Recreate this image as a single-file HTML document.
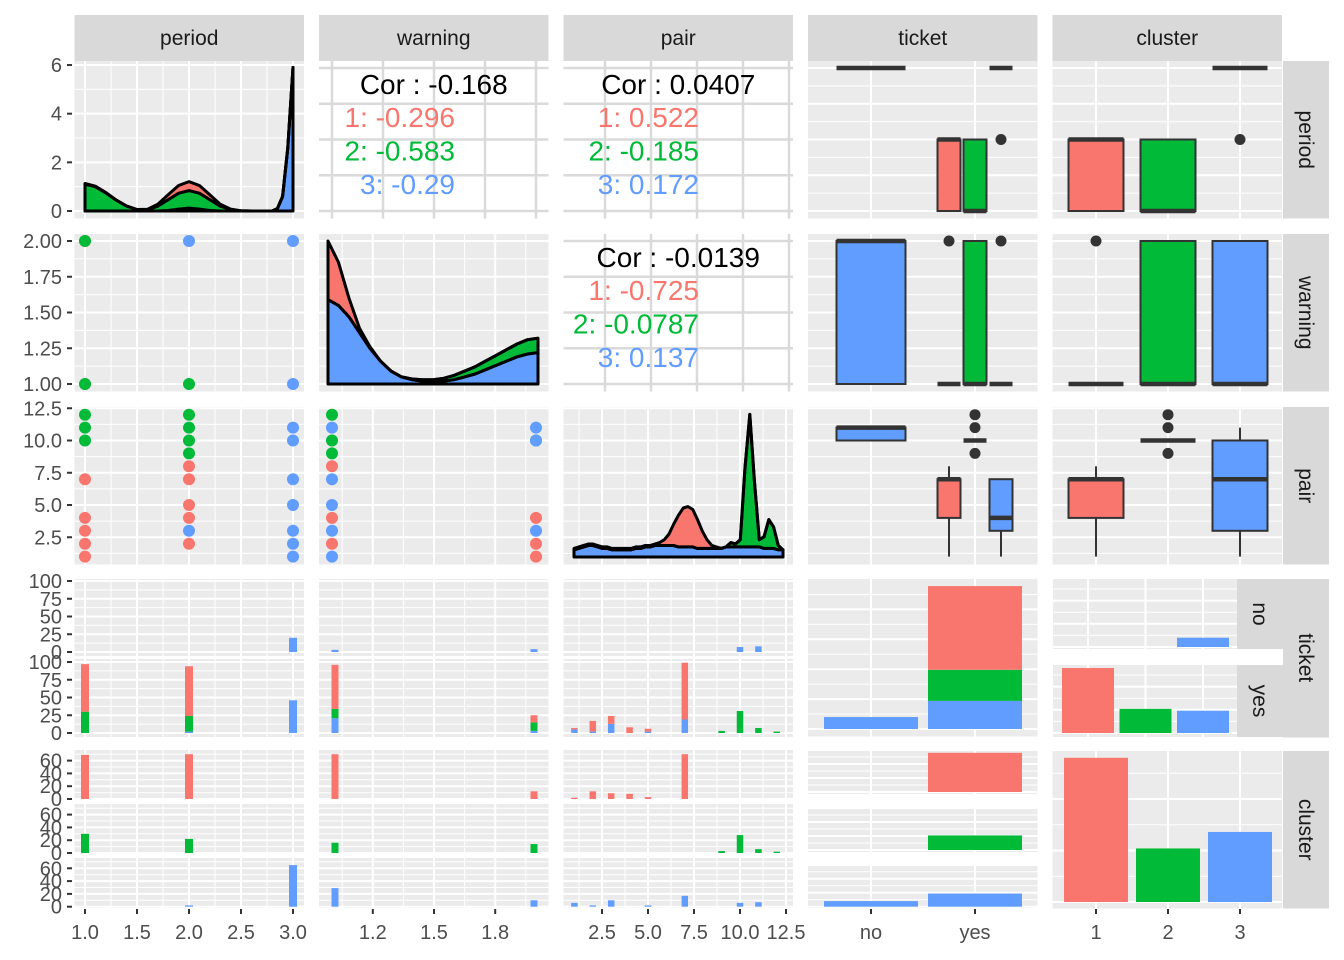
<!DOCTYPE html>
<html><head><meta charset="utf-8"><title>Pairs plot</title>
<style>
html,body{margin:0;padding:0;background:#fff;}
svg{display:block;font-family:"Liberation Sans",Arial,sans-serif;}
</style></head>
<body>
<svg id="chart" width="1344" height="960" viewBox="0 0 1344 960" xmlns="http://www.w3.org/2000/svg"></svg>
<script>
// ---------- DATA ----------
const clusterColors = ['#F8766D','#00BA38','#619CFF'];
const varNames = ['period','warning','pair','ticket','cluster'];

const periodDensX = [1,1.1,1.2,1.3,1.4,1.5,1.6,1.7,1.8,1.9,2,2.1,2.2,2.3,2.4,2.5,2.6,2.7,2.8,2.85,2.9,2.95,3];
const periodDensRed   = [0.03,0.02,0.01,0,0,0,0.02,0.08,0.2,0.32,0.37,0.32,0.2,0.08,0.02,0,0,0,0,0,0,0,0];
const periodDensGreen = [1.1,1.0,0.75,0.45,0.2,0.06,0.05,0.2,0.45,0.65,0.72,0.65,0.45,0.2,0.06,0.01,0,0,0,0,0,0,0];
const periodDensBlue  = [0,0,0,0,0,0,0,0,0.02,0.08,0.12,0.08,0.02,0,0,0,0,0,0,0.1,0.6,2.6,5.9];

const warnDensX = [1,1.05,1.1,1.15,1.2,1.25,1.3,1.35,1.4,1.45,1.5,1.55,1.6,1.65,1.7,1.75,1.8,1.85,1.9,1.95,2];
const warnDensRed   = [0.41,0.3,0.13,0.03,0.01,0,0,0,0,0,0,0,0,0,0,0,0,0,0,0,0];
const warnDensGreen = [0,0,0,0,0,0,0,0,0.005,0.01,0.01,0.02,0.03,0.04,0.05,0.06,0.07,0.08,0.09,0.1,0.1];
const warnDensBlue  = [0.59,0.55,0.47,0.36,0.25,0.16,0.09,0.05,0.03,0.02,0.02,0.02,0.03,0.05,0.07,0.1,0.13,0.16,0.19,0.21,0.22];

const pairDensX = [1,1.25,1.5,1.75,2,2.25,2.5,2.75,3,3.25,3.5,3.75,4,4.25,4.5,4.75,5,5.25,5.5,5.75,6,6.25,6.5,6.75,7,7.25,7.5,7.75,8,8.25,8.5,8.75,9,9.25,9.5,9.75,10,10.25,10.5,10.75,11,11.25,11.5,11.75,12];
const pairDensRed   = [0.01,0.01,0.01,0.01,0.01,0.01,0.01,0.01,0.01,0.01,0.01,0.01,0.01,0.01,0.01,0.01,0.01,0.01,0.02,0.04,0.08,0.15,0.22,0.27,0.28,0.26,0.2,0.12,0.06,0.02,0.01,0,0,0,0,0,0,0,0,0,0,0,0,0,0];
const pairDensGreen = [0,0,0,0,0,0,0,0,0,0,0,0,0,0,0,0,0,0,0,0,0,0,0,0,0,0,0,0,0,0,0,0,0,0.03,0.02,0.05,0.55,0.92,0.45,0.05,0.08,0.2,0.15,0.03,0];
const pairDensBlue  = [0.05,0.06,0.07,0.08,0.08,0.07,0.06,0.06,0.05,0.05,0.05,0.05,0.05,0.06,0.06,0.07,0.07,0.08,0.08,0.08,0.08,0.08,0.07,0.07,0.07,0.07,0.06,0.06,0.06,0.06,0.06,0.06,0.07,0.07,0.07,0.07,0.07,0.07,0.07,0.07,0.06,0.06,0.06,0.05,0.05];

const wpPeriod  = [1,1,1,1,2,2,3,3];
const wpWarning = [2,2,1,1,2,1,2,1];
const wpCluster = [1,2,1,2,3,2,3,3];
const ppPeriod  = [1,1,1,1,1,1,1,1,2,2,2,2,2,2,2,2,2,2,3,3,3,3,3,3,3];
const ppPair    = [12,11,10,7,4,3,2,1,12,11,10,9,8,7,5,4,2,3,11,10,7,5,3,2,1];
const ppCluster = [2,2,2,1,1,1,1,1,2,2,2,2,1,1,1,1,1,3,3,3,3,3,3,3,3];
const pwWarning = [1,1,1,1,1,1,1,1,1,1,1,2,2,2,2,2,2,2];
const pwPair    = [12,11,10,9,8,7,5,4,3,2,1,10,11,10,4,3,2,1];
const pwCluster = [2,3,2,2,1,3,3,1,3,1,3,2,3,3,1,3,1,1];

const corOverall = ['Cor : -0.168','Cor : 0.0407','Cor : -0.0139'];
const corByCluster = [['1: -0.296','2: -0.583','3: -0.29'],['1: 0.522','2: -0.185','3: 0.172'],['1: -0.725','2: -0.0787','3: 0.137']];

const bxTicketCat   = ['no','yes','yes','yes'];
const bxTicketGrp   = [3,1,2,3];
const bxTicketPeriod = [[3,3,3,3,3],[1,1,2,2,2],[1,1,1,2,2],[3,3,3,3,3]];
const bxTicketPeriodOut = [[],[],[],[2]];
const bxTicketWarning = [[1,1,2,2,2],[1,1,1,1,1],[1,1,1,2,2],[1,1,1,1,1]];
const bxTicketWarnOut = [[],[2],[],[2]];
const bxTicketPair = [[10,10,11,11,11],[1,4,7,7,8],[10,10,10,10,10],[1,3,4,7,7]];
const bxTicketPairOut = [[],[],[9,11,12],[]];
const bxClusterPeriod = [[1,1,2,2,2],[1,1,1,2,2],[3,3,3,3,3]];
const bxClusterPeriodOut = [[],[],[2]];
const bxClusterWarning = [[1,1,1,1,1],[1,1,1,2,2],[1,1,1,2,2]];
const bxClusterWarnOut = [[2],[],[]];
const bxClusterPair = [[1,4,7,7,8],[10,10,10,10,10],[1,3,7,10,11]];
const bxClusterPairOut = [[],[9,11,12],[]];

const histPeriodVals = [1,2,3];
const tkNoPeriodBlue = [0,0,20];
const tkYesPeriodRed = [67,70,0], tkYesPeriodGreen = [30,22,0], tkYesPeriodBlue = [0,2,46];
const histWarnVals = [1,2];
const tkNoWarnBlue = [3,4];
const tkYesWarnRed = [62,10], tkYesWarnGreen = [13,12], tkYesWarnBlue = [21,3];
const histPairVals = [1,2,3,4,5,7,9,10,11,12];
const tkNoPairBlue = [0,0,0,0,0,0,0,7,8,0];
const tkYesPairRed = [2,15,11,8,4,80,0,0,0,0];
const tkYesPairGreen = [0,0,0,0,0,0,3,31,7,2];
const tkYesPairBlue = [5,2,13,0,2,19,0,0,0,0];
const clPeriod = [[69,70,0],[30,22,0],[0,2,65]];
const clWarn = [[70,12],[16,14],[29,10]];
const clPair = [[2,12,9,8,3,70,0,0,0,0],[0,0,0,0,0,0,3,28,6,2],[6,2,10,0,2,17,0,6,7,0]];
const ticketCats = ['no','yes'];
const ttRed = [0,140], ttGreen = [0,52], ttBlue = [20,47];
const tcNo = [0,0,20], tcYes = [140,52,48];
const ctNo = [0,0,20], ctYes = [140,52,47];
const ccCounts = [140,52,68];

// ---------- GEOMETRY ----------
const NS='http://www.w3.org/2000/svg';
const SVG=document.getElementById('chart');
const COLX=[74.5,319,563.5,808,1052.5], PW=229.5;
const ROWY=[61,234,407,579,751], PH=157.5;
const xPeriod=v=>85+(v-1)*104;
const xWarn=v=>332+(v-1)*204;
const xWarnD=v=>328+(v-1)*210;
const xPair=v=>556+v*18.4;
const xTicket=c=>c==='no'?871:975;
const xCluster=c=>1096+(c-1)*72;
const yDens=d=>211-d*24.33;
const yPeriod=p=>211-(p-1)*71.5;
const yWarn=w=>384-(w-1)*143;
const yPair=p=>569.5-12.9*p;

function mk(tag,attrs,name,parent){
  const el=document.createElementNS(NS,tag);
  for(const k in attrs) el.setAttribute(k,attrs[k]);
  
  
  (parent||SVG).appendChild(el);
  return el;
}
function txt(x,y,s,name,o){
  o=o||{};
  const t=mk('text',{x:x,y:y,'font-size':o.size||20,fill:o.fill||'#4D4D4D','text-anchor':o.anchor||'middle'},name);
  if(o.rot) t.setAttribute('transform','rotate('+o.rot+' '+x+' '+y+')');
  t.textContent=s;
  return t;
}
function panel(x0,y0,x1,y1,name,xs,xsMin,ys,ysMin,cor){
  mk('rect',{x:x0,y:y0,width:x1-x0,height:y1-y0,fill:cor?'#FFFFFF':'#EBEBEB'},name);
  const col=cor?'#DADADA':'#FFFFFF';
  (ysMin||[]).forEach(y=>{ if(y>y0&&y<y1) mk('line',{x1:x0,x2:x1,y1:y,y2:y,stroke:col,'stroke-width':1},'minor-gridline'); });
  (xsMin||[]).forEach(x=>{ if(x>x0&&x<x1) mk('line',{x1:x,x2:x,y1:y0,y2:y1,stroke:col,'stroke-width':1},'minor-gridline'); });
  (ys||[]).forEach(y=>{ if(y>=y0-1&&y<=y1+1) mk('line',{x1:x0,x2:x1,y1:y,y2:y,stroke:col,'stroke-width':cor?2.5:2},'major-gridline'); });
  (xs||[]).forEach(x=>{ if(x>=x0-1&&x<=x1+1) mk('line',{x1:x,x2:x,y1:y0,y2:y1,stroke:col,'stroke-width':cor?2.5:2},'major-gridline'); });
}
const gxMaj=[[1,1.5,2,2.5,3].map(xPeriod),[1.2,1.5,1.8].map(xWarn),[2.5,5,7.5,10,12.5].map(xPair),[871,975],[1096,1168,1240]];
const gxMin=[[1.25,1.75,2.25,2.75].map(xPeriod),[1.05,1.35,1.65,1.95].map(xWarn),[1.25,3.75,6.25,8.75,11.25].map(xPair),[],[]];
const gyPeriodMaj=[1,1.5,2,2.5,3].map(yPeriod), gyPeriodMin=[1.25,1.75,2.25,2.75].map(yPeriod);
const gyWarnMaj=[1,1.25,1.5,1.75,2].map(yWarn), gyWarnMin=[1.125,1.375,1.625,1.875].map(yWarn);
const gyPairMaj=[2.5,5,7.5,10,12.5].map(yPair), gyPairMin=[1.25,3.75,6.25,8.75,11.25].map(yPair);

varNames.forEach((n,i)=>{
  mk('rect',{x:COLX[i],y:15,width:PW,height:46,fill:'#D9D9D9'},'column-strip-'+n);
  txt(COLX[i]+PW/2,45,n,'column-strip-label-'+n,{size:21,fill:'#1A1A1A'});
  mk('rect',{x:1283,y:ROWY[i],width:46,height:PH+(i==3?1:0),fill:'#D9D9D9'},'row-strip-'+n);
  txt(1299,ROWY[i]+PH/2,n,'row-strip-label-'+n,{size:21,fill:'#1A1A1A',rot:90});
});

function stackedDensity(xs,layers,xf,base,hf,name){
  const cum=xs.map(()=>0);
  layers.forEach((L)=>{
    const lo=cum.slice();
    L.vals.forEach((v,i)=>cum[i]+=v);
    let d='M'+xf(xs[0])+','+(base-lo[0]*hf);
    xs.forEach((x,i)=>{ d+=' L'+xf(x).toFixed(1)+','+(base-cum[i]*hf).toFixed(1); });
    for(let i=xs.length-1;i>=0;i--) d+=' L'+xf(xs[i]).toFixed(1)+','+(base-lo[i]*hf).toFixed(1);
    d+='Z';
    mk('path',{d:d,fill:L.color,stroke:'#000','stroke-width':3,'stroke-linejoin':'round'},name+'-'+L.key);
  });
}
function pts(xs,ys,cs,xf,yf,name){
  xs.forEach((x,i)=>{ mk('circle',{cx:xf(x),cy:yf(ys[i]),r:6,fill:clusterColors[cs[i]-1]},name); });
}
function box(cx,w,s,out,yf,color,name){
  const x0=cx-w/2;
  mk('line',{x1:cx,x2:cx,y1:yf(s[0]),y2:yf(s[1]),stroke:'#333','stroke-width':2},name+'-whisker');
  mk('line',{x1:cx,x2:cx,y1:yf(s[3]),y2:yf(s[4]),stroke:'#333','stroke-width':2},name+'-whisker');
  mk('rect',{x:x0,y:yf(s[3]),width:w,height:Math.max(0,yf(s[1])-yf(s[3])),fill:color,stroke:'#333','stroke-width':2},name);
  mk('line',{x1:x0,x2:x0+w,y1:yf(s[2]),y2:yf(s[2]),stroke:'#333','stroke-width':4.5},name+'-median');
  out.forEach(o=>mk('circle',{cx:cx,cy:yf(o),r:5.5,fill:'#333'},name+'-outlier'));
}
function dodgeX(cat,grpIdx,n,total){ const w=total/n; return {cx:xTicket(cat)-total/2+w*(grpIdx+0.5), w:w-3}; }
function stackBars(vals,layers,xf,base,sc,w,name){
  vals.forEach((v,i)=>{
    let acc=0;
    layers.forEach(L=>{
      const c=L.vals[i]; if(!c) return;
      mk('rect',{x:xf(v)-w/2,y:base-(acc+c)*sc,width:w,height:c*sc,fill:L.color},name+'-'+L.key);
      acc+=c;
    });
  });
}

// ROW 1
panel(COLX[0],ROWY[0],COLX[0]+PW,ROWY[0]+PH,'panel-period-density',gxMaj[0],gxMin[0],[0,2,4,6].map(yDens),[1,3,5].map(yDens));
stackedDensity(periodDensX,[{key:'blue',vals:periodDensBlue,color:clusterColors[2]},{key:'green',vals:periodDensGreen,color:clusterColors[1]},{key:'red',vals:periodDensRed,color:clusterColors[0]}],xPeriod,211,24.33,'density-period');
function corPanel(ci,ri,xs,ys,k){
  panel(COLX[ci],ROWY[ri],COLX[ci]+PW,ROWY[ri]+PH,'panel-correlation-'+k,xs,[],ys,[],true);
  const cx=COLX[ci]+PW/2, top=ROWY[ri];
  txt(cx,top+33,corOverall[k],'correlation-overall',{size:28,fill:'#000'});
  const rx=ci==1?455:699;
  corByCluster[k].forEach((s,j)=>txt(rx,top+66+j*33.5,s,'correlation-cluster-'+(j+1),{size:28,fill:clusterColors[j],anchor:'end'}));
}
corPanel(1,0,[1,1.25,1.5,1.75,2].map(xWarn),gyPeriodMaj,0);
corPanel(2,0,[2.5,5,7.5,10,12.5].map(v=>xPair(v)+3),gyPeriodMaj,1);
corPanel(2,1,[2.5,5,7.5,10,12.5].map(v=>xPair(v)+3),gyWarnMaj,2);

panel(COLX[3],ROWY[0],COLX[3]+PW,ROWY[0]+PH,'panel-ticket-period-box',gxMaj[3],[],gyPeriodMaj,gyPeriodMin);
panel(COLX[3],ROWY[1],COLX[3]+PW,ROWY[1]+PH,'panel-ticket-warning-box',gxMaj[3],[],gyWarnMaj,gyWarnMin);
panel(COLX[3],ROWY[2],COLX[3]+PW,ROWY[2]+PH,'panel-ticket-pair-box',gxMaj[3],[],gyPairMaj,gyPairMin);
function ticketBoxes(stats,outs,yf,tag){
  stats.forEach((s,i)=>{
    const cat=bxTicketCat[i];
    const same=bxTicketCat.filter(c=>c===cat).length;
    const idx=bxTicketCat.slice(0,i).filter(c=>c===cat).length;
    const d=dodgeX(cat,idx,same,same===1?72:78);
    box(d.cx,d.w,s,outs[i],yf,clusterColors[bxTicketGrp[i]-1],'box-'+tag+'-'+cat);
  });
}
ticketBoxes(bxTicketPeriod,bxTicketPeriodOut,yPeriod,'period');
ticketBoxes(bxTicketWarning,bxTicketWarnOut,yWarn,'warning');
ticketBoxes(bxTicketPair,bxTicketPairOut,yPair,'pair');

panel(COLX[4],ROWY[0],COLX[4]+PW,ROWY[0]+PH,'panel-cluster-period-box',gxMaj[4],[],gyPeriodMaj,gyPeriodMin);
panel(COLX[4],ROWY[1],COLX[4]+PW,ROWY[1]+PH,'panel-cluster-warning-box',gxMaj[4],[],gyWarnMaj,gyWarnMin);
panel(COLX[4],ROWY[2],COLX[4]+PW,ROWY[2]+PH,'panel-cluster-pair-box',gxMaj[4],[],gyPairMaj,gyPairMin);
[[bxClusterPeriod,bxClusterPeriodOut,yPeriod,'period'],[bxClusterWarning,bxClusterWarnOut,yWarn,'warning'],[bxClusterPair,bxClusterPairOut,yPair,'pair']].forEach(B=>{
  B[0].forEach((s,i)=>box(xCluster(i+1),55,s,B[1][i],B[2],clusterColors[i],'box-cluster-'+B[3]));
});

// ROW 2
panel(COLX[0],ROWY[1],COLX[0]+PW,ROWY[1]+PH,'panel-period-warning-scatter',gxMaj[0],gxMin[0],gyWarnMaj,gyWarnMin);
pts(wpPeriod,wpWarning,wpCluster,xPeriod,yWarn,'point-period-warning');
panel(COLX[1],ROWY[1],COLX[1]+PW,ROWY[1]+PH,'panel-warning-density',gxMaj[1],gxMin[1],gyWarnMaj,gyWarnMin);
stackedDensity(warnDensX,[{key:'blue',vals:warnDensBlue,color:clusterColors[2]},{key:'green',vals:warnDensGreen,color:clusterColors[1]},{key:'red',vals:warnDensRed,color:clusterColors[0]}],xWarnD,384,143,'density-warning');

// ROW 3
panel(COLX[0],ROWY[2],COLX[0]+PW,ROWY[2]+PH,'panel-period-pair-scatter',gxMaj[0],gxMin[0],gyPairMaj,gyPairMin);
pts(ppPeriod,ppPair,ppCluster,xPeriod,yPair,'point-period-pair');
panel(COLX[1],ROWY[2],COLX[1]+PW,ROWY[2]+PH,'panel-warning-pair-scatter',gxMaj[1],gxMin[1],gyPairMaj,gyPairMin);
pts(pwWarning,pwPair,pwCluster,xWarn,yPair,'point-warning-pair');
panel(COLX[2],ROWY[2],COLX[2]+PW,ROWY[2]+PH,'panel-pair-density',gxMaj[2],gxMin[2],gyPairMaj,gyPairMin);
stackedDensity(pairDensX,[{key:'blue',vals:pairDensBlue,color:clusterColors[2]},{key:'green',vals:pairDensGreen,color:clusterColors[1]},{key:'red',vals:pairDensRed,color:clusterColors[0]}],v=>574+(v-1)*19,557,144,'density-pair');

// ROW 4
const subNo=[579,656,652], subYes=[659,737,733], tkSc=0.71;
function subGrid(base,sc,majors,minors){return [majors.map(c=>base-c*sc),minors.map(c=>base-c*sc)];}
for(let ci=0;ci<3;ci++){
  [subNo,subYes].forEach((S,k)=>{
    const g=subGrid(S[2],tkSc,[0,25,50,75,100],[12.5,37.5,62.5,87.5]);
    panel(COLX[ci],S[0],COLX[ci]+PW,S[1],'panel-ticket-'+(k?'yes':'no')+'-hist-'+ci,gxMaj[ci],gxMin[ci],g[0],g[1]);
  });
}
stackBars(histPeriodVals,[{key:'blue',vals:tkNoPeriodBlue,color:clusterColors[2]}],xPeriod,652,tkSc,8,'bar-ticket-no-period');
stackBars(histPeriodVals,[{key:'blue',vals:tkYesPeriodBlue,color:clusterColors[2]},{key:'green',vals:tkYesPeriodGreen,color:clusterColors[1]},{key:'red',vals:tkYesPeriodRed,color:clusterColors[0]}],xPeriod,733,tkSc,8,'bar-ticket-yes-period');
const xWarnBar=v=>Math.min(Math.max(xWarn(v),335),534);
stackBars(histWarnVals,[{key:'blue',vals:tkNoWarnBlue,color:clusterColors[2]}],xWarnBar,652,tkSc,7,'bar-ticket-no-warning');
stackBars(histWarnVals,[{key:'blue',vals:tkYesWarnBlue,color:clusterColors[2]},{key:'green',vals:tkYesWarnGreen,color:clusterColors[1]},{key:'red',vals:tkYesWarnRed,color:clusterColors[0]}],xWarnBar,733,tkSc,7,'bar-ticket-yes-warning');
stackBars(histPairVals,[{key:'blue',vals:tkNoPairBlue,color:clusterColors[2]}],xPair,652,tkSc,6.5,'bar-ticket-no-pair');
stackBars(histPairVals,[{key:'blue',vals:tkYesPairBlue,color:clusterColors[2]},{key:'green',vals:tkYesPairGreen,color:clusterColors[1]},{key:'red',vals:tkYesPairRed,color:clusterColors[0]}],xPair,733,tkSc,6.5,'bar-ticket-yes-pair');
(function(){
  const base=729, sc=0.598;
  panel(COLX[3],ROWY[3],COLX[3]+PW,ROWY[3]+PH,'panel-ticket-ticket-bar',gxMaj[3],[],[0,50,100,150,200].map(c=>base-c*sc),[25,75,125,175,225].map(c=>base-c*sc));
  stackBars(ticketCats,[{key:'blue',vals:ttBlue,color:clusterColors[2]},{key:'green',vals:ttGreen,color:clusterColors[1]},{key:'red',vals:ttRed,color:clusterColors[0]}],xTicket,base,sc,94,'bar-ticket-ticket');
})();
(function(){
  const sc=0.464, xc=c=>1088+(c-1)*57.5, x0=1053, x1=1237;
  const cl=[1,2,3];
  [[579,649,647,'no',tcNo],[665,737,733,'yes',tcYes]].forEach(S=>{
    const g=subGrid(S[2],sc,[0,50,100,150],[25,75,125]);
    panel(x0,S[0],x1,S[1],'panel-ticket-'+S[3]+'-cluster',cl.map(xc),[],g[0],g[1]);
    cl.forEach((c,i)=>{ if(S[4][i]) mk('rect',{x:xc(c)-26,y:S[2]-S[4][i]*sc,width:52,height:S[4][i]*sc,fill:clusterColors[i]},'bar-ticket-'+S[3]+'-cluster-'+c); });
    mk('rect',{x:1237,y:S[0],width:46,height:S[1]-S[0],fill:'#D9D9D9'},'facet-strip-'+S[3]);
    txt(1253,(S[0]+S[1])/2,S[3],'facet-strip-label-'+S[3],{size:21,fill:'#1A1A1A',rot:90});
  });
})();

// ROW 5
const clSubs=[[750,800,799],[804,853,853],[858,908,906.7]], clSc=0.64;
for(let ci=0;ci<3;ci++){
  clSubs.forEach((S,k)=>{
    const g=subGrid(S[2],clSc,[0,20,40,60],[10,30,50,70]);
    panel(COLX[ci],S[0],COLX[ci]+PW,S[1],'panel-cluster-'+(k+1)+'-hist-'+ci,gxMaj[ci],gxMin[ci],g[0],g[1]);
  });
}
clSubs.forEach((S,k)=>{
  stackBars(histPeriodVals,[{key:'c'+(k+1),vals:clPeriod[k],color:clusterColors[k]}],xPeriod,S[2],clSc,8,'bar-cluster-period');
  stackBars(histWarnVals,[{key:'c'+(k+1),vals:clWarn[k],color:clusterColors[k]}],xWarnBar,S[2],clSc,7,'bar-cluster-warning');
  stackBars(histPairVals,[{key:'c'+(k+1),vals:clPair[k],color:clusterColors[k]}],xPair,S[2],clSc,6.5,'bar-cluster-pair');
});
(function(){
  const sc=0.28;
  const subs=[[751,794,792],[809,852,850],[866,908,906.7]];
  subs.forEach((S,k)=>{
    const g=subGrid(S[2],sc,[0,50,100],[25,75,125]);
    panel(COLX[3],S[0],COLX[3]+PW,S[1],'panel-cluster-'+(k+1)+'-ticket',gxMaj[3],[],g[0],g[1]);
    const vals=[ctNo[k],ctYes[k]];
    ticketCats.forEach((c,i)=>{ if(vals[i]) mk('rect',{x:xTicket(c)-47,y:S[2]-vals[i]*sc,width:94,height:vals[i]*sc,fill:clusterColors[k]},'bar-cluster-ticket-'+c); });
  });
})();
(function(){
  const base=902, sc=1.03;
  panel(COLX[4],ROWY[4],COLX[4]+PW,ROWY[4]+PH,'panel-cluster-cluster-bar',gxMaj[4],[],[0,50,100].map(c=>base-c*sc),[25,75,125].map(c=>base-c*sc));
  ccCounts.forEach((c,i)=>mk('rect',{x:xCluster(i+1)-32,y:base-c*sc,width:64,height:c*sc,fill:clusterColors[i]},'bar-cluster-'+(i+1)));
})();

// AXES
function yTick(y,label){
  mk('line',{x1:67,x2:72,y1:y,y2:y,stroke:'#333','stroke-width':2},'y-axis-tick');
  txt(62,y+7,label,'y-axis-label',{anchor:'end'});
}
[0,2,4,6].forEach(d=>yTick(yDens(d),String(d)));
['1.00','1.25','1.50','1.75','2.00'].forEach(s=>yTick(yWarn(+s),s));
['2.5','5.0','7.5','10.0','12.5'].forEach(s=>yTick(yPair(+s),s));
[subNo,subYes].forEach(S=>['0','25','50','75','100'].forEach(s=>yTick(S[2]-(+s)*tkSc,s)));
clSubs.forEach(S=>['0','20','40','60'].forEach(s=>yTick(S[2]-(+s)*clSc,s)));
function xTick(x,label){
  mk('line',{x1:x,x2:x,y1:909,y2:914,stroke:'#333','stroke-width':2},'x-axis-tick');
  txt(x,939,label,'x-axis-label');
}
['1.0','1.5','2.0','2.5','3.0'].forEach(s=>xTick(xPeriod(+s),s));
['1.2','1.5','1.8'].forEach(s=>xTick(xWarn(+s),s));
['2.5','5.0','7.5','10.0','12.5'].forEach(s=>xTick(xPair(+s),s));
ticketCats.forEach(c=>xTick(xTicket(c),c));
['1','2','3'].forEach(s=>xTick(xCluster(+s),s));
</script>
</body></html>
